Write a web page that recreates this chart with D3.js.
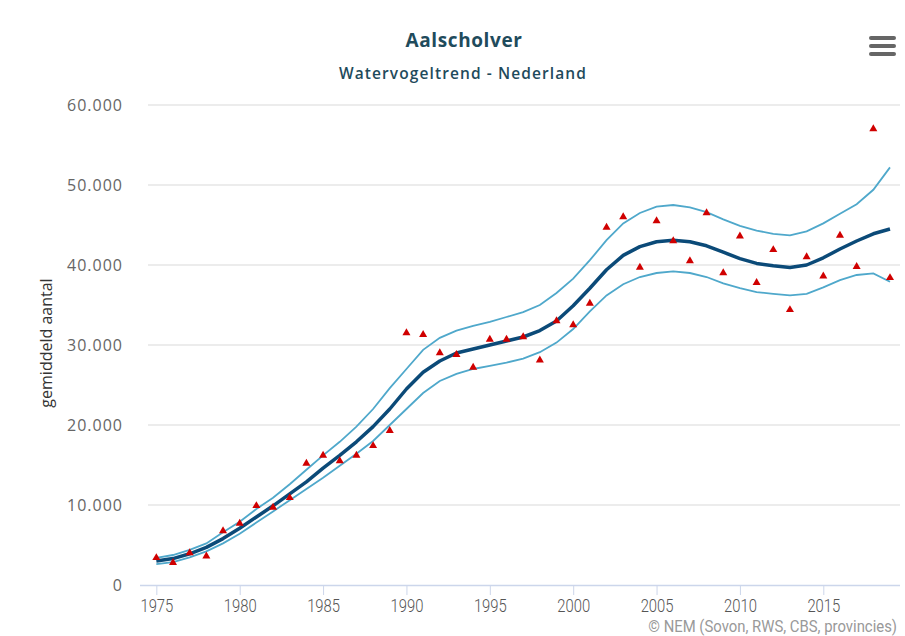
<!DOCTYPE html>
<html>
<head>
<meta charset="utf-8">
<script src="https://cdn.jsdelivr.net/npm/d3@7"></script>
<style>
  body { margin: 0; background: #fff; }
  svg { display: block; }
</style>
</head>
<body>
<script>
// years on the x axis
const years = d3.range(1975, 2020)

// counted averages (triangles), in thousands
const counts = [3.4, 2.8, 4.0, 3.6, 6.75, 7.7, 9.9, 9.7, 10.9, 15.2,
  16.2, 15.5, 16.2, 17.4, 19.3, 31.5, 31.3, 29.0, 28.8, 27.2,
  30.7, 30.7, 31.0, 28.1, 33.0, 32.5, 35.2, 44.7, 46.0, 39.7,
  45.5, 43.0, 40.5, 46.5, 39.0, 43.6, 37.8, 41.9, 34.4, 41.0,
  38.6, 43.7, 39.8, 57.0, 38.4]

// trend line and its upper / lower bounds, in thousands
const trend = [3.0, 3.3, 3.9, 4.7, 5.8, 7.1, 8.5, 9.9, 11.4, 12.9,
  14.6, 16.2, 17.9, 19.8, 22.0, 24.5, 26.6, 28.0, 29.0, 29.5,
  30.0, 30.5, 31.0, 31.8, 33.0, 34.9, 37.1, 39.4, 41.2, 42.3,
  42.9, 43.1, 42.9, 42.4, 41.6, 40.8, 40.2, 39.9, 39.7, 40.0,
  40.9, 42.0, 43.0, 43.9, 44.5]

const upper = [3.4, 3.75, 4.4, 5.2, 6.6, 7.9, 9.5, 10.9, 12.6, 14.4,
  16.2, 17.9, 19.8, 22.0, 24.6, 27.0, 29.4, 30.9, 31.8, 32.4,
  32.9, 33.5, 34.1, 35.0, 36.5, 38.3, 40.6, 43.1, 45.2, 46.5,
  47.3, 47.5, 47.2, 46.6, 45.7, 44.9, 44.3, 43.9, 43.7, 44.2,
  45.2, 46.4, 47.6, 49.4, 52.2]

const lower = [2.6, 2.85, 3.45, 4.2, 5.2, 6.4, 7.8, 9.2, 10.6, 12.0,
  13.4, 14.9, 16.4, 18.0, 20.0, 22.0, 24.0, 25.5, 26.4, 27.0,
  27.4, 27.8, 28.3, 29.1, 30.3, 32.0, 34.2, 36.2, 37.6, 38.5,
  39.0, 39.2, 39.0, 38.5, 37.7, 37.1, 36.6, 36.4, 36.2, 36.4,
  37.2, 38.1, 38.75, 38.95, 37.9]

const xTicks = [1975, 1980, 1985, 1990, 1995, 2000, 2005, 2010, 2015]
const yTicks = [0, 10000, 20000, 30000, 40000, 50000, 60000]

const width = 905, height = 636
const margin = {top: 105, right: 5, bottom: 51, left: 148}

const svg = d3.select('body').append('svg')
  .attr('width', width)
  .attr('height', height)
  .style('font-family', '"Open Sans", sans-serif')

const x = d3.scaleLinear()
  .domain([1974.5, 2019.6])
  .range([margin.left, width - margin.right])

const y = d3.scaleLinear()
  .domain([0, 60000])
  .range([height - margin.bottom, margin.top])

// dutch number format: 60.000
const fmt = d => d3.format(',')(d).replace(/,/g, '.')

// gridlines
svg.append('g')
  .selectAll('line')
  .data(yTicks.slice(1))
  .enter().append('line')
  .attr('x1', margin.left)
  .attr('x2', 900)
  .attr('y1', d => y(d))
  .attr('y2', d => y(d))
  .attr('stroke', '#e6e6e6')
  .attr('stroke-width', 1.5)

// y axis labels
svg.append('g')
  .selectAll('text')
  .data(yTicks)
  .enter().append('text')
  .attr('x', 123)
  .attr('y', d => y(d) + 6)
  .attr('text-anchor', 'end')
  .style('font-size', '16px')
  .style('letter-spacing', '1px')
  .attr('fill', '#666')
  .text(d => fmt(d))

// x axis
const xAxis = svg.append('g')
  .attr('transform', 'translate(0,' + y(0) + ')')
  .call(d3.axisBottom(x).tickValues(xTicks).tickFormat(d3.format('d')).tickSize(10).tickPadding(4))
xAxis.select('.domain')
  .attr('d', 'M' + 140 + ',0.5H' + 900)
  .attr('stroke', '#ccd6eb')
  .attr('stroke-width', 1.5)
xAxis.selectAll('.tick line').attr('stroke', '#ccd6eb')
// narrow, thin labels
xAxis.selectAll('.tick text')
  .style('font-family', 'Roboto, sans-serif')
  .style('font-weight', 300)
  .style('font-size', '19px')
  .attr('transform', 'scale(0.78,1)')
  .attr('fill', '#555')

// bounds and trend lines
const line = d3.line()
  .x((d, i) => x(years[i]))
  .y(d => y(d * 1000))

svg.append('path')
  .attr('d', line(upper))
  .attr('fill', 'none')
  .attr('stroke', '#4fa8cb')
  .attr('stroke-width', 1.8)

svg.append('path')
  .attr('d', line(lower))
  .attr('fill', 'none')
  .attr('stroke', '#4fa8cb')
  .attr('stroke-width', 1.8)

svg.append('path')
  .attr('d', line(trend))
  .attr('fill', 'none')
  .attr('stroke', '#0b4a78')
  .attr('stroke-width', 3.5)
  .attr('stroke-linejoin', 'round')

// counted values as triangles
svg.append('g')
  .selectAll('path')
  .data(counts)
  .enter().append('path')
  .attr('d', d3.symbol(d3.symbolTriangle, 28))
  .attr('transform', (d, i) => 'translate(' + x(years[i]) + ',' + y(d * 1000) + ')')
  .attr('fill', '#d00000')

// y axis title
svg.append('text')
  .attr('transform', 'translate(52,343) rotate(-90)')
  .attr('text-anchor', 'middle')
  .style('font-size', '16px')
  .attr('fill', '#333')
  .text('gemiddeld aantal')

// title and subtitle
svg.append('text')
  .attr('x', 464)
  .attr('y', 47)
  .attr('text-anchor', 'middle')
  .style('font-size', '19px')
  .style('font-weight', 'bold')
  .style('letter-spacing', '0.6px')
  .attr('fill', '#1f4b5c')
  .text('Aalscholver')

svg.append('text')
  .attr('x', 463)
  .attr('y', 79)
  .attr('text-anchor', 'middle')
  .style('font-size', '15.5px')
  .style('font-weight', '600')
  .style('letter-spacing', '1.1px')
  .attr('fill', '#1f4b5c')
  .text('Watervogeltrend - Nederland')

// credits
svg.append('text')
  .attr('transform', 'translate(897,632) scale(0.93,1)')
  .attr('text-anchor', 'end')
  .style('font-family', 'Roboto, sans-serif')
  .style('font-size', '16px')
  .attr('fill', '#999')
  .text('\u00a9 NEM (Sovon, RWS, CBS, provincies)')

// menu button
svg.append('g')
  .selectAll('line')
  .data([38, 46, 54])
  .enter().append('line')
  .attr('x1', 871)
  .attr('x2', 894)
  .attr('y1', d => d)
  .attr('y2', d => d)
  .attr('stroke', '#666')
  .attr('stroke-width', 4)
  .attr('stroke-linecap', 'round')
</script>
</body>
</html>
